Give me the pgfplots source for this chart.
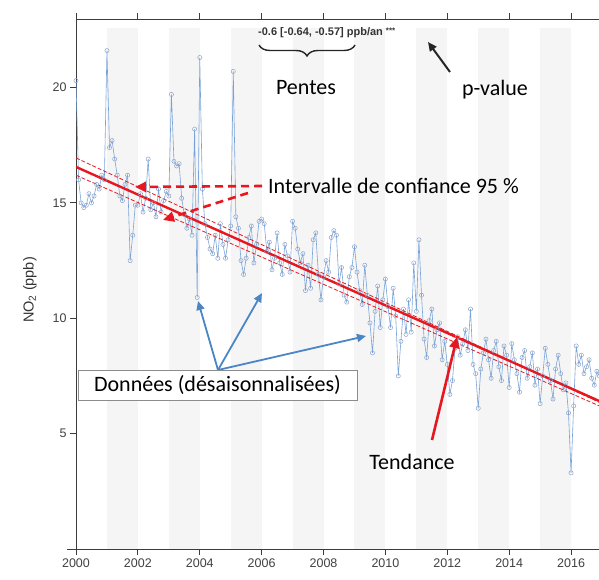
\documentclass[border=0pt]{standalone}
\usepackage{pgfplots}
\pgfplotsset{compat=1.18}
\usepackage{pgfplotstable}
\usepackage{fontspec}
\setmainfont{Liberation Sans}
\newfontfamily\calibri{Carlito}
\usetikzlibrary{arrows.meta,decorations.pathreplacing}

\definecolor{serie}{RGB}{120,163,216}
\definecolor{marque}{RGB}{140,163,200}
\definecolor{bande}{RGB}{245,245,245}
\definecolor{rouge}{RGB}{232,22,30}
\definecolor{fleche}{RGB}{74,134,197}
\definecolor{axe}{RGB}{60,60,60}

% NO2 desaisonnalise, mensuel
\pgfplotstableread{
an mois no2
2000 1 20.3
2000 2 16.0
2000 3 15.0
2000 4 14.8
2000 5 14.9
2000 6 15.4
2000 7 15.0
2000 8 15.3
2000 9 15.8
2000 10 15.6
2000 11 16.2
2000 12 16.0
2001 1 21.6
2001 2 17.4
2001 3 17.7
2001 4 16.9
2001 5 16.2
2001 6 15.3
2001 7 15.1
2001 8 15.8
2001 9 16.2
2001 10 12.5
2001 11 13.6
2001 12 14.9
2002 1 14.9
2002 2 15.4
2002 3 14.6
2002 4 15.2
2002 5 16.9
2002 6 14.7
2002 7 15.0
2002 8 14.4
2002 9 15.6
2002 10 14.6
2002 11 15.1
2002 12 15.5
2003 1 15.3
2003 2 19.7
2003 3 16.8
2003 4 16.6
2003 5 16.7
2003 6 15.2
2003 7 14.5
2003 8 13.9
2003 9 14.3
2003 10 13.6
2003 11 18.2
2003 12 10.9
2004 1 21.3
2004 2 15.6
2004 3 14.1
2004 4 13.5
2004 5 13.0
2004 6 12.8
2004 7 13.6
2004 8 12.6
2004 9 14.1
2004 10 13.2
2004 11 12.6
2004 12 13.4
2005 1 14.0
2005 2 20.7
2005 3 14.4
2005 4 13.9
2005 5 12.5
2005 6 11.9
2005 7 12.6
2005 8 13.5
2005 9 14.0
2005 10 12.4
2005 11 13.2
2005 12 14.2
2006 1 14.3
2006 2 14.1
2006 3 12.9
2006 4 13.3
2006 5 12.1
2006 6 12.6
2006 7 13.7
2006 8 12.4
2006 9 11.9
2006 10 13.2
2006 11 12.7
2006 12 12.0
2007 1 14.2
2007 2 13.9
2007 3 13.0
2007 4 12.4
2007 5 12.8
2007 6 11.2
2007 7 12.3
2007 8 11.3
2007 9 13.4
2007 10 13.7
2007 11 11.9
2007 12 10.8
2008 1 11.8
2008 2 12.5
2008 3 12.0
2008 4 13.5
2008 5 13.8
2008 6 13.6
2008 7 11.5
2008 8 12.2
2008 9 11.0
2008 10 10.7
2008 11 11.8
2008 12 12.2
2009 1 13.1
2009 2 12.0
2009 3 11.2
2009 4 10.6
2009 5 12.3
2009 6 11.0
2009 7 9.8
2009 8 8.5
2009 9 10.3
2009 10 11.4
2009 11 9.6
2009 12 10.8
2010 1 11.7
2010 2 10.5
2010 3 9.6
2010 4 11.3
2010 5 10.1
2010 6 7.5
2010 7 9.0
2010 8 10.4
2010 9 9.3
2010 10 10.8
2010 11 9.4
2010 12 12.4
2011 1 10.3
2011 2 13.4
2011 3 11.0
2011 4 9.1
2011 5 8.3
2011 6 9.9
2011 7 10.4
2011 8 8.8
2011 9 9.5
2011 10 9.8
2011 11 8.2
2011 12 9.0
2012 1 8.0
2012 2 6.7
2012 3 7.3
2012 4 8.7
2012 5 9.2
2012 6 8.4
2012 7 8.9
2012 8 9.5
2012 9 8.6
2012 10 10.4
2012 11 8.0
2012 12 7.6
2013 1 6.1
2013 2 7.8
2013 3 8.5
2013 4 9.1
2013 5 8.2
2013 6 7.4
2013 7 8.6
2013 8 9.0
2013 9 7.9
2013 10 7.3
2013 11 8.8
2013 12 8.4
2014 1 7.0
2014 2 8.9
2014 3 8.2
2014 4 7.6
2014 5 6.8
2014 6 8.3
2014 7 8.6
2014 8 7.4
2014 9 7.9
2014 10 8.5
2014 11 7.1
2014 12 7.8
2015 1 6.3
2015 2 7.5
2015 3 8.7
2015 4 8.0
2015 5 7.3
2015 6 6.5
2015 7 7.8
2015 8 8.4
2015 9 7.6
2015 10 6.9
2015 11 7.2
2015 12 5.9
2016 1 3.3
2016 2 6.2
2016 3 8.8
2016 4 8.0
2016 5 8.4
2016 6 7.6
2016 7 7.9
2016 8 8.2
2016 9 7.4
2016 10 7.1
2016 11 7.7
2016 12 7.5
}\donnees

\begin{document}
\begin{tikzpicture}[x=1pt,y=1pt]
\useasboundingbox (0,0) rectangle (599,579);
\begin{axis}[
    at={(76pt,30pt)}, anchor=south west,
    scale only axis,
    width=525pt, height=530pt,
    xmin=2000, xmax=2016.968,
    ymin=0, ymax=22.97,
    xtick={2000,2002,...,2016},
    ytick={5,10,15,20},
    xtick pos=lower, ytick pos=left,
    tick align=outside,
    major tick length=6pt,
    axis line style={axe, line width=0.9pt},
    every tick/.style={axe, line width=0.9pt},
    tick label style={font=\fontsize{12.5}{14}\selectfont, text=black!75},
    /pgf/number format/assume math mode=true,
    xticklabel style={/pgf/number format/1000 sep={}},
    clip=true,
]
% bandes grises (annees impaires)
\foreach \a in {2001,2003,...,2015} {
    \edef\temp{\noexpand\fill[bande] (\a,0) rectangle (\a+1,22.6);}
    \temp
}
% serie desaisonnalisee
\addplot[serie, line width=0.6pt, mark=o, mark size=2.1pt,
    mark options={marque, line width=0.5pt}]
    table[x expr=\thisrow{an}+(\thisrow{mois}-1)/12, y=no2] {\donnees};
% intervalle de confiance
\addplot[rouge, line width=0.8pt, dash pattern=on 4pt off 2pt] coordinates {(2000,16.95) (2017,6.30)};
\addplot[rouge, line width=0.8pt, dash pattern=on 4pt off 2pt] coordinates {(2000,16.20) (2017,6.15)};
% tendance
\addplot[rouge, line width=2.4pt] coordinates {(2000,16.56) (2017,6.36)};
\end{axis}

% axe x prolonge a gauche, graduations du haut
\draw[axe, line width=0.9pt] (67,30) -- (76,30);
\foreach \k in {0,...,8} {
    \draw[axe, line width=0.9pt] (76+61.88*\k,560) -- ++(0,6);
}

% titre axe y
\node[rotate=90, font=\fontsize{14.5}{16}\selectfont, text=black!80] at (30,289) {NO\textsubscript{2} (ppb)};

% pente
\node[anchor=west, font=\fontsize{11}{13}\selectfont\bfseries, text=black!80, inner sep=0pt]
    at (258,546) {-0.6 [-0.64, -0.57] ppb/an \raisebox{2pt}{\fontsize{8}{9}\selectfont ***}};
\draw[black!85, line width=1.4pt, decorate, decoration={brace, mirror, amplitude=11pt}]
    (259,534) -- (355,534);
\node[font=\calibri\fontsize{22}{26}\selectfont] at (306,491) {Pentes};

% p-value
\draw[black!85, line width=2pt, -{Triangle[length=9pt,width=8pt]}] (450,507) -- (428,537);
\node[font=\calibri\fontsize{22}{26}\selectfont] at (495,489) {p-value};

% intervalle de confiance
\node[anchor=west, font=\calibri\fontsize{22}{26}\selectfont, inner sep=0pt] at (268,393) {Intervalle de confiance 95 \%};
\draw[rouge, line width=2.6pt, dash pattern=on 8pt off 5pt, -{Triangle[length=11pt,width=10pt]}] (262,393) -- (135,392);
\draw[rouge, line width=2.6pt, dash pattern=on 8pt off 5pt, -{Triangle[length=11pt,width=10pt]}] (248,386) -- (163,359);

% donnees
\draw[fleche, line width=1.8pt, -{Triangle[length=9pt,width=8pt]}] (218,209) -- (198,278);
\draw[fleche, line width=1.8pt, -{Triangle[length=9pt,width=8pt]}] (218,209) -- (262,286);
\draw[fleche, line width=1.8pt, -{Triangle[length=9pt,width=8pt]}] (218,209) -- (366,243);
\draw[black!45, line width=0.7pt, fill=white] (78,179) rectangle (357,209);
\node[font=\calibri\fontsize{22}{26}\selectfont] at (217.5,194) {Données (désaisonnalisées)};

% tendance
\draw[rouge, line width=2.6pt, -{Triangle[length=11pt,width=10pt]}] (432,139) -- (457,242);
\node[font=\calibri\fontsize{22}{26}\selectfont] at (412,117) {Tendance};
\end{tikzpicture}
\end{document}
